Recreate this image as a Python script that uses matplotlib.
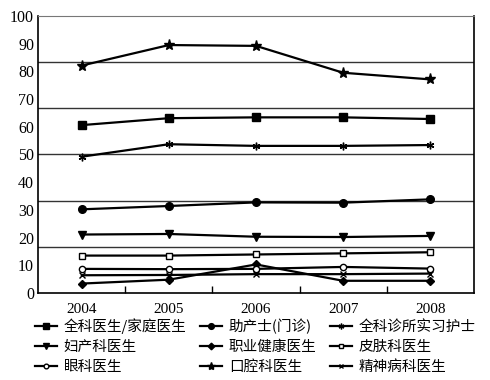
import matplotlib.pyplot as plt
import numpy as np

plt.rcParams['font.family'] = ['Liberation Serif', 'Noto Sans CJK SC']

years = ["2004", "2005", "2006", "2007", "2008"]

gp = [60.6, 63.1, 63.4, 63.4, 62.8]            # 全科医生/家庭医生
midwife = [30.2, 31.4, 32.7, 32.6, 33.8]       # 助产士(门诊)
nurse = [49.2, 53.7, 53.1, 53.1, 53.4]         # 全科诊所实习护士
obgyn = [21.1, 21.3, 20.3, 20.2, 20.6]         # 妇产科医生
occup = [3.4, 4.8, 10.3, 4.4, 4.4]             # 职业健康医生
derm = [13.5, 13.5, 13.9, 14.3, 14.7]          # 皮肤科医生
eye = [8.7, 8.6, 8.7, 9.4, 8.8]                # 眼科医生
dental = [82.1, 89.5, 89.2, 79.5, 77.1]        # 口腔科医生
psych = [6.4, 6.5, 6.8, 6.8, 7.0]              # 精神病科医生

series = [
    ("全科医生/家庭医生", gp, dict(marker='s', mfc='black')),
    ("助产士(门诊)", midwife, dict(marker='o', mfc='black')),
    ("全科诊所实习护士", nurse, dict(marker=(6, 2, 0), mfc='black')),
    ("妇产科医生", obgyn, dict(marker='v', mfc='black')),
    ("职业健康医生", occup, dict(marker='D', mfc='black', markersize=4.5)),
    ("皮肤科医生", derm, dict(marker='s', mfc='white', markersize=4.5)),
    ("眼科医生", eye, dict(marker='o', mfc='white', markersize=4.5)),
    ("口腔科医生", dental, dict(marker='*', mfc='black', markersize=8)),
    ("精神病科医生", psych, dict(marker='x', mfc='black', markersize=4.5)),
]

fig = plt.figure(figsize=(4.9, 3.8), dpi=100)
ax = fig.add_axes([0.078, 0.229, 0.889, 0.729])

x = np.arange(len(years))
handles = []
for name, vals, style in series:
    opts = dict(color='black', lw=1.6, markersize=5.5, mec='black', mew=1.0)
    opts.update(style)
    h, = ax.plot(x, vals, label=name, **opts)
    handles.append(h)

for k in range(1, 6):
    ax.axhline(k * 100 / 6, color='#333333', lw=1.0, zorder=0)

ax.set_xlim(-0.5, 4.5)
ax.set_ylim(0, 100)
ax.set_xticks(x)
ax.set_xticklabels(years, fontsize=11)
ax.set_xticks(np.arange(0.5, 4.5, 1), minor=True)
ax.tick_params(axis='x', which='major', length=0, pad=7)
ax.tick_params(axis='x', which='minor', direction='in', length=5, width=1)
ax.set_yticks(np.arange(0, 101, 10))
ax.tick_params(axis='y', length=0, labelsize=11.5, pad=3)
ax.spines['top'].set_color('#777777')
for s in ['left', 'bottom', 'right']:
    ax.spines[s].set_linewidth(1.2)

order = [0, 3, 6, 1, 4, 7, 2, 5, 8]
leg = fig.legend([handles[i] for i in order], [series[i][0] for i in order],
                 loc='upper left', bbox_to_anchor=(0.05, 0.19), ncol=3,
                 frameon=False, handlelength=1.5, markerscale=0.75,
                 handletextpad=0.5, columnspacing=0.9, labelspacing=0.42,
                 borderpad=0.2,
                 prop={'family': ['Noto Sans CJK SC'], 'size': 10.5})

fig.savefig("out.png", dpi=100)
